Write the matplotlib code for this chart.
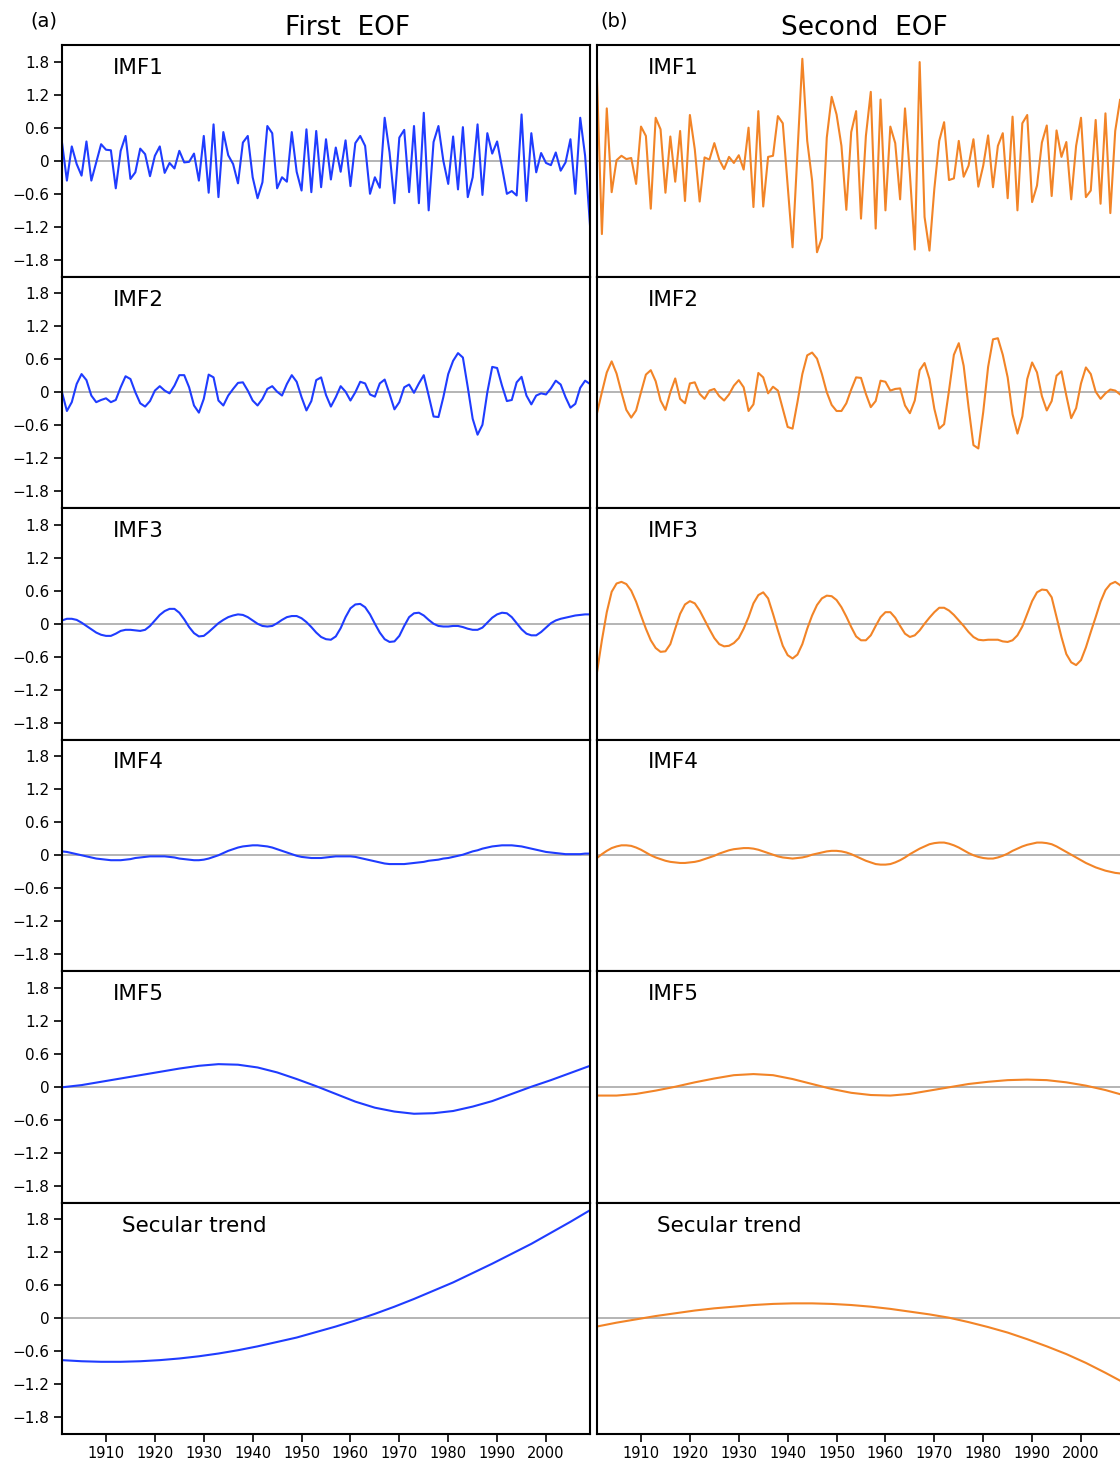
import matplotlib
matplotlib.use("Agg")
import matplotlib.pyplot as plt
import numpy as np

plt.rcParams["font.family"] = ["DejaVu Sans"]

BLUE = "#1f3cff"
ORANGE = "#f28427"
ZERO_GRAY = "#a8a8a8"

years = np.arange(1901, 2010)
years_4 = np.arange(1901, 2010, 4)

imf1_first = [
    0.33, -0.36, 0.26, -0.06, -0.27, 0.35, -0.36, -0.03, 0.30, 0.20,
    0.19, -0.50, 0.18, 0.45, -0.33, -0.21, 0.22, 0.12, -0.28, 0.09,
    0.26, -0.22, -0.04, -0.14, 0.18, -0.03, -0.02, 0.13, -0.36, 0.45,
    -0.58, 0.66, -0.66, 0.52, 0.10, -0.06, -0.41, 0.33, 0.45, -0.30,
    -0.68, -0.39, 0.63, 0.50, -0.50, -0.30, -0.38, 0.52, -0.20, -0.54,
    0.57, -0.57, 0.54, -0.48, 0.39, -0.34, 0.24, -0.20, 0.37, -0.46,
    0.32, 0.45, 0.27, -0.60, -0.30, -0.49, 0.78, 0.15, -0.77, 0.42,
    0.56, -0.57, 0.63, -0.77, 0.87, -0.90, 0.34, 0.63, 0.00, -0.42,
    0.44, -0.52, 0.61, -0.66, -0.30, 0.66, -0.62, 0.50, 0.13, 0.35,
    -0.12, -0.60, -0.55, -0.63, 0.84, -0.73, 0.50, -0.21, 0.14, -0.04,
    -0.08, 0.15, -0.18, -0.03, 0.39, -0.60, 0.78, 0.09, -1.17,
]
imf1_second = [
    1.48, -1.33, 0.95, -0.57, 0.01, 0.09, 0.03, 0.05, -0.42, 0.62,
    0.45, -0.87, 0.78, 0.57, -0.58, 0.44, -0.38, 0.54, -0.73, 0.83,
    0.21, -0.74, 0.06, 0.02, 0.32, 0.02, -0.15, 0.07, -0.04, 0.10,
    -0.16, 0.60, -0.84, 0.90, -0.83, 0.07, 0.09, 0.81, 0.68, -0.45,
    -1.57, 0.14, 1.85, 0.36, -0.36, -1.66, -1.40, 0.42, 1.16, 0.84,
    0.27, -0.89, 0.52, 0.90, -1.05, 0.45, 1.25, -1.23, 1.11, -0.90,
    0.62, 0.32, -0.70, 0.95, -0.24, -1.61, 1.79, -1.02, -1.63, -0.51,
    0.36, 0.70, -0.35, -0.32, 0.36, -0.29, -0.09, 0.39, -0.47, -0.09,
    0.46, -0.48, 0.27, 0.50, -0.68, 0.80, -0.90, 0.68, 0.83, -0.75,
    -0.45, 0.33, 0.64, -0.64, 0.55, 0.07, 0.34, -0.70, 0.27, 0.78,
    -0.66, -0.54, 0.74, -0.78, 0.86, -0.95, 0.54, 1.11, 0.90,
]
imf2_first = [
    0.00, -0.34, -0.18, 0.15, 0.33, 0.22, -0.06, -0.18, -0.14, -0.11,
    -0.18, -0.14, 0.09, 0.29, 0.24, 0.00, -0.20, -0.26, -0.16, 0.03,
    0.11, 0.03, -0.02, 0.12, 0.31, 0.31, 0.09, -0.24, -0.37, -0.12,
    0.32, 0.27, -0.15, -0.24, -0.06, 0.06, 0.17, 0.18, 0.03, -0.15,
    -0.24, -0.12, 0.06, 0.11, 0.01, -0.06, 0.15, 0.31, 0.19, -0.09,
    -0.33, -0.16, 0.22, 0.27, -0.05, -0.26, -0.09, 0.11, 0.01, -0.15,
    0.00, 0.19, 0.16, -0.04, -0.08, 0.16, 0.23, -0.03, -0.31, -0.18,
    0.09, 0.14, -0.01, 0.16, 0.31, -0.06, -0.44, -0.45, -0.09, 0.33,
    0.57, 0.71, 0.63, 0.09, -0.48, -0.77, -0.59, 0.00, 0.46, 0.44,
    0.12, -0.16, -0.14, 0.18, 0.28, -0.06, -0.22, -0.06, -0.02, -0.04,
    0.07, 0.21, 0.14, -0.09, -0.28, -0.21, 0.08, 0.21, 0.15,
]
imf2_second = [
    -0.38, 0.00, 0.36, 0.56, 0.34, 0.00, -0.32, -0.46, -0.33, 0.00,
    0.32, 0.40, 0.20, -0.15, -0.32, 0.00, 0.25, -0.12, -0.20, 0.16,
    0.18, -0.03, -0.12, 0.03, 0.06, -0.07, -0.15, -0.04, 0.12, 0.22,
    0.09, -0.34, -0.22, 0.35, 0.27, -0.02, 0.10, 0.03, -0.30, -0.63,
    -0.66, -0.18, 0.33, 0.67, 0.72, 0.61, 0.33, 0.00, -0.23, -0.34,
    -0.34, -0.20, 0.05, 0.27, 0.26, -0.03, -0.27, -0.16, 0.21, 0.19,
    0.03, 0.06, 0.07, -0.24, -0.38, -0.15, 0.40, 0.53, 0.24, -0.30,
    -0.66, -0.58, 0.03, 0.68, 0.89, 0.48, -0.27, -0.96, -1.02, -0.36,
    0.46, 0.96, 0.98, 0.68, 0.27, -0.40, -0.75, -0.44, 0.24, 0.54,
    0.36, -0.07, -0.33, -0.16, 0.30, 0.38, -0.06, -0.47, -0.29, 0.16,
    0.45, 0.33, 0.01, -0.12, -0.02, 0.05, 0.03, -0.04, -0.10,
]
imf3_first = [
    0.06, 0.09, 0.09, 0.07, 0.02, -0.04, -0.10, -0.16, -0.20, -0.22,
    -0.22, -0.18, -0.13, -0.11, -0.11, -0.12, -0.13, -0.11, -0.04, 0.06,
    0.16, 0.23, 0.27, 0.27, 0.20, 0.08, -0.06, -0.17, -0.23, -0.22,
    -0.15, -0.07, 0.01, 0.07, 0.12, 0.15, 0.17, 0.16, 0.12, 0.06,
    0.00, -0.04, -0.05, -0.04, 0.01, 0.07, 0.12, 0.14, 0.14, 0.10,
    0.03, -0.06, -0.16, -0.24, -0.28, -0.29, -0.23, -0.08, 0.12, 0.28,
    0.35, 0.36, 0.30, 0.17, 0.00, -0.16, -0.28, -0.33, -0.32, -0.22,
    -0.04, 0.12, 0.19, 0.20, 0.15, 0.07, 0.00, -0.04, -0.05, -0.05,
    -0.04, -0.04, -0.06, -0.09, -0.11, -0.11, -0.07, 0.02, 0.11, 0.17,
    0.20, 0.19, 0.12, 0.01, -0.10, -0.18, -0.21, -0.21, -0.15, -0.07,
    0.01, 0.06, 0.09, 0.11, 0.13, 0.15, 0.16, 0.17, 0.17,
]
imf3_second = [
    -0.88, -0.30, 0.21, 0.58, 0.73, 0.76, 0.72, 0.60, 0.40, 0.15,
    -0.09, -0.30, -0.44, -0.51, -0.50, -0.37, -0.09, 0.18, 0.35, 0.41,
    0.37, 0.24, 0.07, -0.10, -0.26, -0.37, -0.41, -0.40, -0.35, -0.26,
    -0.09, 0.12, 0.37, 0.52, 0.57, 0.46, 0.18, -0.12, -0.40, -0.57,
    -0.63, -0.56, -0.37, -0.09, 0.15, 0.34, 0.46, 0.51, 0.50, 0.43,
    0.30, 0.13, -0.06, -0.23, -0.30, -0.30, -0.21, -0.04, 0.12, 0.21,
    0.21, 0.11, -0.04, -0.18, -0.24, -0.21, -0.12, 0.00, 0.11, 0.21,
    0.29, 0.29, 0.24, 0.16, 0.06, -0.04, -0.15, -0.24, -0.29, -0.30,
    -0.29, -0.29, -0.29, -0.32, -0.33, -0.30, -0.21, -0.05, 0.18, 0.41,
    0.57, 0.62, 0.61, 0.48, 0.12, -0.24, -0.55, -0.70, -0.75, -0.66,
    -0.43, -0.15, 0.12, 0.40, 0.61, 0.72, 0.76, 0.70, 0.60,
]
imf4_first = [
    0.07, 0.06, 0.04, 0.02, 0.00, -0.02, -0.04, -0.06, -0.07, -0.08,
    -0.09, -0.09, -0.09, -0.08, -0.07, -0.05, -0.04, -0.03, -0.02, -0.02,
    -0.02, -0.02, -0.03, -0.04, -0.06, -0.07, -0.08, -0.09, -0.09, -0.08,
    -0.06, -0.03, 0.00, 0.04, 0.08, 0.11, 0.14, 0.16, 0.17, 0.18,
    0.18, 0.17, 0.16, 0.14, 0.11, 0.08, 0.05, 0.02, -0.01, -0.03,
    -0.04, -0.05, -0.05, -0.05, -0.04, -0.03, -0.02, -0.02, -0.02, -0.02,
    -0.03, -0.05, -0.07, -0.09, -0.11, -0.13, -0.15, -0.16, -0.16, -0.16,
    -0.16, -0.15, -0.14, -0.13, -0.12, -0.10, -0.09, -0.08, -0.06, -0.05,
    -0.03, -0.01, 0.01, 0.04, 0.07, 0.09, 0.12, 0.14, 0.16, 0.17,
    0.18, 0.18, 0.18, 0.17, 0.16, 0.14, 0.12, 0.10, 0.08, 0.06,
    0.05, 0.04, 0.03, 0.02, 0.02, 0.02, 0.02, 0.03, 0.03,
]
imf4_second = [
    -0.05, 0.02, 0.08, 0.13, 0.16, 0.18, 0.18, 0.17, 0.14, 0.10,
    0.05, 0.00, -0.04, -0.07, -0.10, -0.12, -0.13, -0.14, -0.14, -0.13,
    -0.12, -0.10, -0.07, -0.04, -0.01, 0.03, 0.06, 0.09, 0.11, 0.12,
    0.13, 0.13, 0.12, 0.10, 0.07, 0.04, 0.01, -0.02, -0.04, -0.05,
    -0.06, -0.05, -0.04, -0.02, 0.01, 0.03, 0.05, 0.07, 0.08, 0.08,
    0.07, 0.05, 0.02, -0.02, -0.06, -0.10, -0.13, -0.16, -0.17, -0.17,
    -0.16, -0.13, -0.09, -0.04, 0.02, 0.07, 0.12, 0.16, 0.20, 0.22,
    0.23, 0.23, 0.21, 0.18, 0.14, 0.09, 0.04, 0.00, -0.03, -0.05,
    -0.06, -0.06, -0.04, -0.01, 0.03, 0.08, 0.12, 0.16, 0.19, 0.21,
    0.23, 0.23, 0.22, 0.20, 0.16, 0.11, 0.06, 0.01, -0.04, -0.09,
    -0.14, -0.18, -0.22, -0.25, -0.28, -0.30, -0.32, -0.33, -0.34,
]
# smooth components, every 4 years (1901, 1905, ..., 2009)
imf5_first = [
    -0.01, 0.03, 0.09, 0.15, 0.21, 0.27, 0.33, 0.38, 0.41, 0.40,
    0.35, 0.26, 0.14, 0.01, -0.13, -0.27, -0.38, -0.45, -0.49, -0.48,
    -0.44, -0.36, -0.26, -0.13, 0.00, 0.12, 0.25, 0.38,
]
imf5_second = [
    -0.16, -0.16, -0.13, -0.07, 0.00, 0.08, 0.15, 0.21, 0.23, 0.21,
    0.14, 0.05, -0.04, -0.11, -0.15, -0.16, -0.13, -0.07, -0.01, 0.05,
    0.09, 0.12, 0.13, 0.12, 0.08, 0.02, -0.06, -0.16,
]
trend_first = [
    -0.76, -0.78, -0.79, -0.79, -0.78, -0.76, -0.73, -0.69, -0.64, -0.58,
    -0.51, -0.43, -0.35, -0.25, -0.15, -0.04, 0.08, 0.21, 0.35, 0.50,
    0.65, 0.82, 0.99, 1.17, 1.35, 1.55, 1.75, 1.96,
]
trend_second = [
    -0.15, -0.08, -0.02, 0.04, 0.09, 0.14, 0.18, 0.21, 0.24, 0.26,
    0.27, 0.27, 0.26, 0.24, 0.21, 0.17, 0.12, 0.07, 0.01, -0.07,
    -0.16, -0.26, -0.38, -0.51, -0.65, -0.81, -0.99, -1.18,
]

row_labels = ["IMF1", "IMF2", "IMF3", "IMF4", "IMF5", "Secular trend"]
row_x = [years, years, years, years, years_4, years_4]
first_eof = [imf1_first, imf2_first, imf3_first, imf4_first, imf5_first, trend_first]
second_eof = [imf1_second, imf2_second, imf3_second, imf4_second, imf5_second, trend_second]

yticks = [-1.8, -1.2, -0.6, 0, 0.6, 1.2, 1.8]
ytick_labels = ["\u22121.8", "\u22121.2", "\u22120.6", "0", "0.6", "1.2", "1.8"]
xticks = np.arange(1910, 2001, 10)

W, H = 1120, 1461
fig = plt.figure(figsize=(W / 100, H / 100), dpi=100)

top, bottom = 45, 1434
row_h = (bottom - top) / 6
col_left = [62, 597]
col_w = 528

for i in range(6):
    for j, (series, color) in enumerate([(first_eof, BLUE), (second_eof, ORANGE)]):
        y0 = top + (i + 1) * row_h
        ax = fig.add_axes([col_left[j] / W, 1 - y0 / H, col_w / W, row_h / H])
        ax.axhline(0, color=ZERO_GRAY, lw=1.2, zorder=1)
        ax.plot(row_x[i], series[i], color=color, lw=1.5, zorder=2)
        ax.set_xlim(1901, 2009)
        ax.set_ylim(-2.1, 2.1)
        for sp in ax.spines.values():
            sp.set_linewidth(1.5)
        if j == 0:
            ax.set_yticks(yticks)
            ax.set_yticklabels(ytick_labels)
            ax.tick_params(axis="y", direction="out", length=6, width=1.2,
                           pad=3, labelsize=11)
        else:
            ax.set_yticks([])
        if i == 5:
            ax.set_xticks(xticks)
            ax.set_xticklabels([str(x) for x in xticks])
            ax.tick_params(axis="x", direction="out", length=6, width=1.2,
                           pad=3, labelsize=10.5)
        else:
            ax.set_xticks([])
        lx = 60 if i == 5 else 51
        ax.text(lx / col_w, 1 - 23 / row_h, row_labels[i], transform=ax.transAxes,
                fontsize=15.5, va="center", ha="left")

fig.text(348 / W, 1 - 28 / H, "First  EOF", fontsize=19, ha="center", va="center")
fig.text(864 / W, 1 - 28 / H, "Second  EOF", fontsize=19, ha="center", va="center")
fig.text(30 / W, 1 - 21 / H, "(a)", fontsize=14, ha="left", va="center")
fig.text(600 / W, 1 - 21 / H, "(b)", fontsize=14, ha="left", va="center")

fig.savefig("out.png", dpi=100)
